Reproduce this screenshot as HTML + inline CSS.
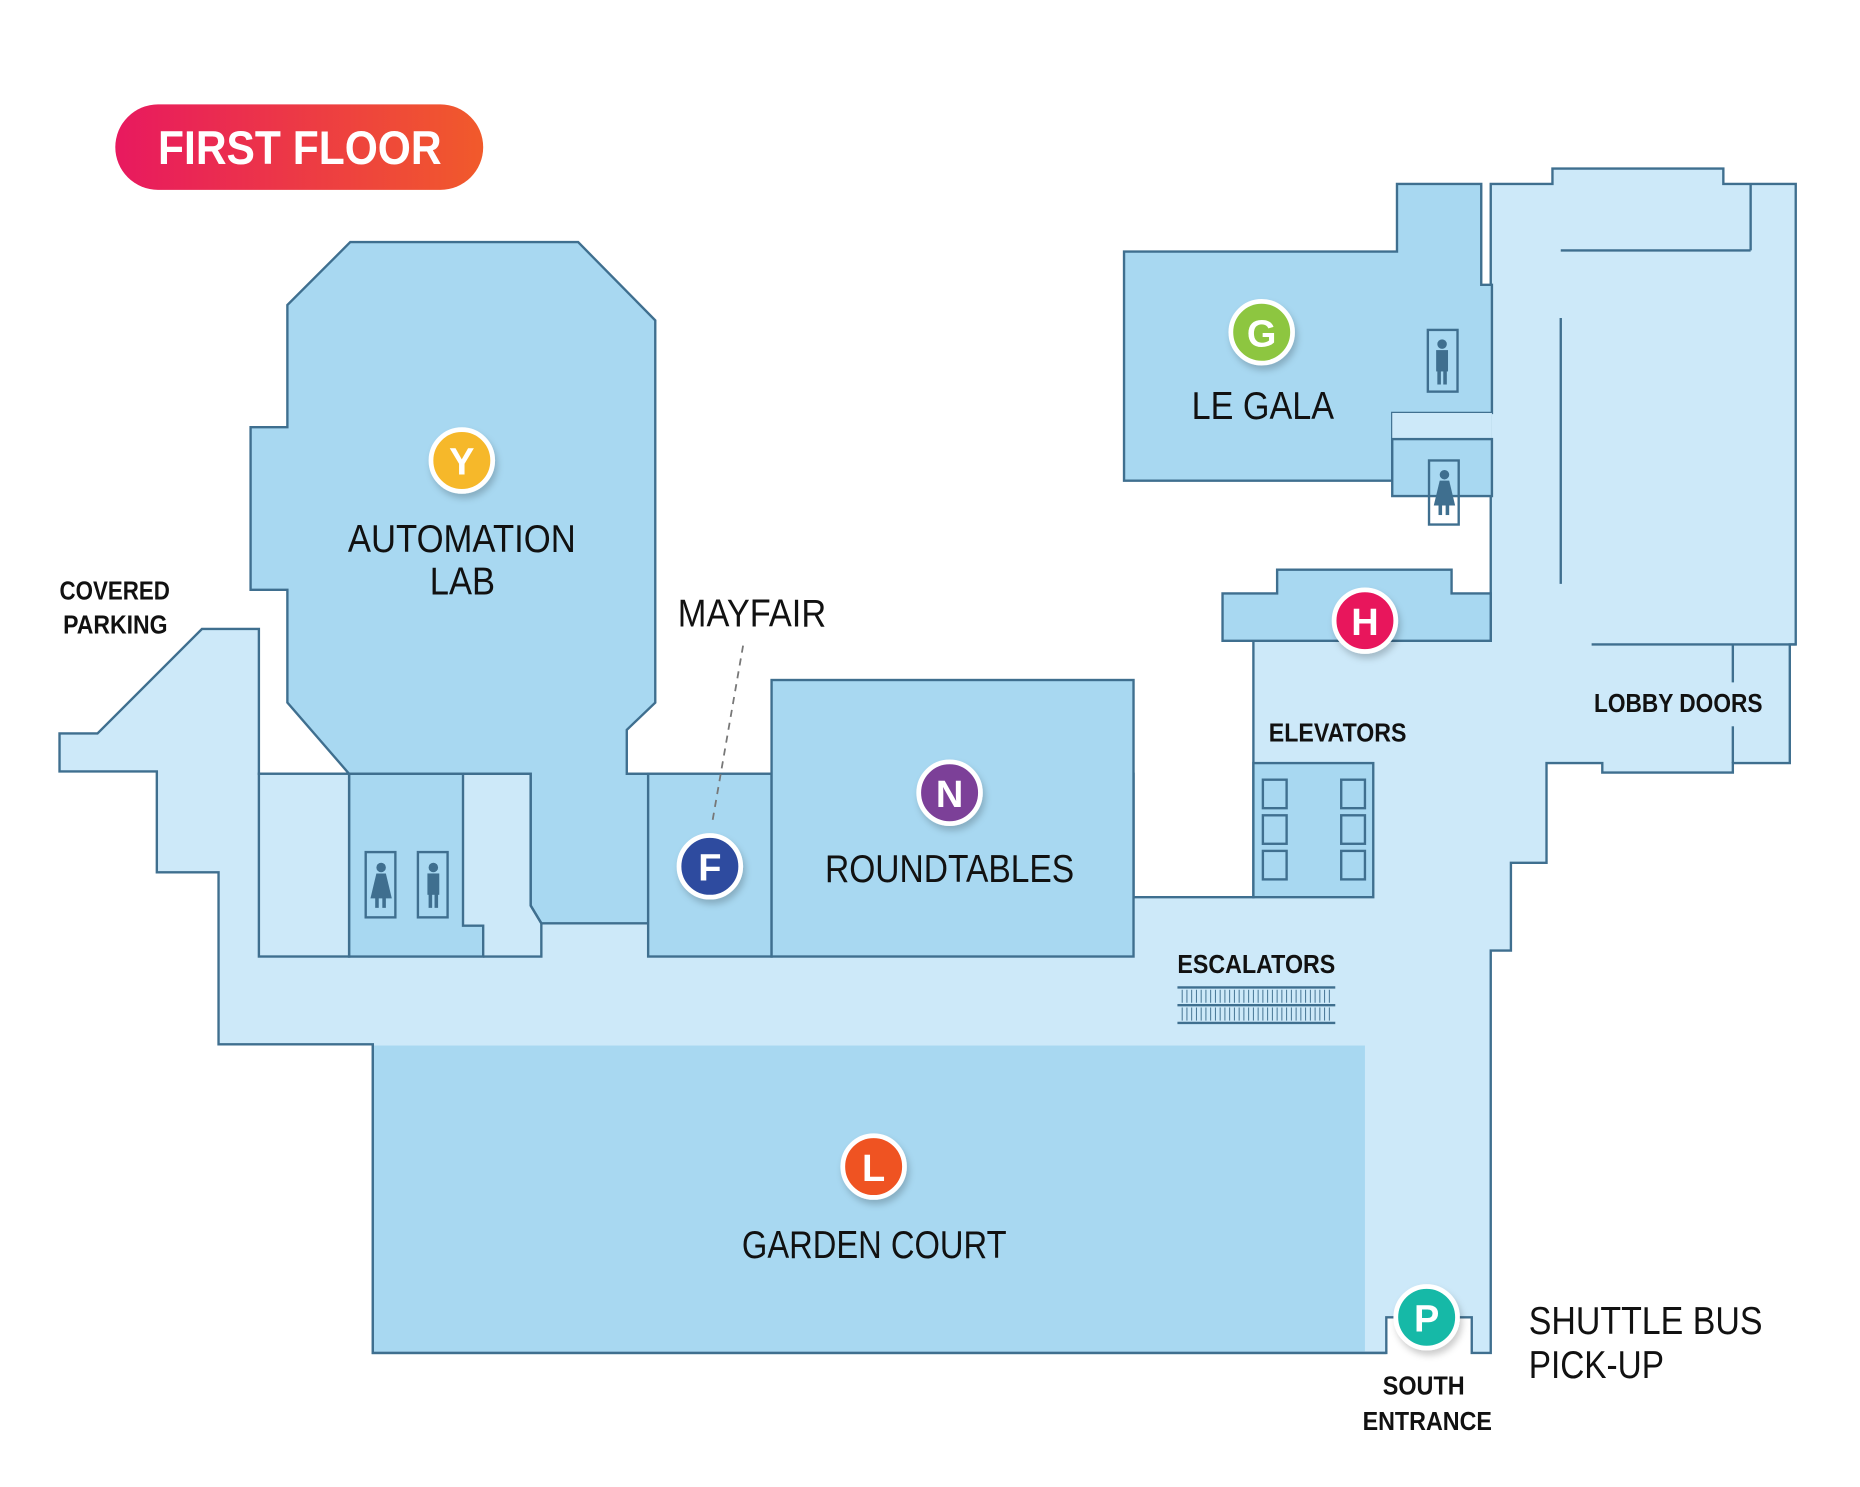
<!DOCTYPE html>
<html><head><meta charset="utf-8"><style>
html,body{margin:0;padding:0;background:#fff;width:1860px;height:1487px;overflow:hidden}
svg{display:block}
.t{font-family:"Liberation Sans",sans-serif;fill:#111}
.b{font-weight:bold}
</style></head><body>
<svg width="1860" height="1487" viewBox="0 0 1567 1253" xmlns="http://www.w3.org/2000/svg">
<defs>
<linearGradient id="pg" x1="0" x2="1"><stop offset="0" stop-color="#e8195f"/><stop offset="1" stop-color="#f15a2b"/></linearGradient>
<filter id="sh" x="-50%" y="-50%" width="200%" height="200%"><feDropShadow dx="2" dy="4" stdDeviation="3" flood-color="#000" flood-opacity="0.2"/></filter>
</defs>
<g stroke="#3f6f8f" stroke-width="2" stroke-linejoin="miter">
<polygon fill="#cde9f9" points="50,618 82,618 170,530 218,530 218,652 955,652 955,756 1056,756 1056,540 1256,540 1256,155 1308,155 1308,142 1452,142 1452,155 1513,155 1513,543 1508,543 1508,643 1460,643 1460,651 1350,651 1350,643 1303,643 1303,727 1273,727 1273,801 1256,801 1256,1140 1240,1140 1240,1110 1168,1110 1168,1140 314,1140 314,880 184,880 184,735 132,735 132,650 50,650"/>
<polygon fill="#a8d8f1" points="947,212 1177,212 1177,155 1248,155 1248,240 1257,240 1257,348 1173,348 1173,405 947,405"/>
<rect x="1173" y="348" width="84" height="22" fill="#cde9f9" stroke="none"/>
<rect x="1173" y="370" width="84" height="48" fill="#a8d8f1"/>
<polygon fill="#a8d8f1" points="1030,500 1076,500 1076,480 1223,480 1223,500 1256,500 1256,540 1030,540"/>
<polygon fill="#a8d8f1" points="295,204 487,204 552,270 552,592 528,615 528,652 546,652 546,778 456,778 447,763 447,652 294,652 242,592 242,497 211,497 211,360 242,360 242,257"/>
<polygon fill="#a8d8f1" points="294,652 390,652 390,780 407,780 407,806 294,806"/>
<rect x="218" y="652" width="76" height="154" fill="#cde9f9"/>
<polyline fill="none" points="390,652 447,652 447,763 456,778 456,806 407,806"/>
<rect x="546" y="652" width="104" height="154" fill="#a8d8f1"/>
<rect x="650" y="573" width="305" height="233" fill="#a8d8f1"/>
<rect x="1056" y="643" width="101" height="113" fill="#a8d8f1"/>
<g fill="none"><rect x="1064" y="657" width="20" height="24"/><rect x="1064" y="687" width="20" height="24"/><rect x="1064" y="717" width="20" height="24"/><rect x="1130" y="657" width="20" height="24"/><rect x="1130" y="687" width="20" height="24"/><rect x="1130" y="717" width="20" height="24"/></g>
<line x1="1315" y1="211" x2="1475" y2="211"/><line x1="1475" y1="155" x2="1475" y2="211"/>
<line x1="1315" y1="268" x2="1315" y2="492"/>
<line x1="1341" y1="543" x2="1513" y2="543"/>
<line x1="1460" y1="543" x2="1460" y2="575"/><line x1="1460" y1="612" x2="1460" y2="643"/>
<g fill="none"><rect x="308" y="718" width="25" height="55"/><rect x="352" y="718" width="25" height="55"/><rect x="1203" y="278" width="25" height="52"/><rect x="1204" y="388" width="25" height="54"/></g>
<g stroke-width="2"><line x1="992" y1="832" x2="1125" y2="832"/><line x1="992" y1="847" x2="1125" y2="847"/><line x1="992" y1="862" x2="1125" y2="862"/></g>
</g>
<g stroke="#3f6f8f" stroke-width="0.8">
<path d="M996 834V845M1000 834V845M1004 834V845M1008 834V845M1012 834V845M1016 834V845M1020 834V845M1024 834V845M1028 834V845M1032 834V845M1036 834V845M1040 834V845M1044 834V845M1048 834V845M1052 834V845M1056 834V845M1060 834V845M1064 834V845M1068 834V845M1072 834V845M1076 834V845M1080 834V845M1084 834V845M1088 834V845M1092 834V845M1096 834V845M1100 834V845M1104 834V845M1108 834V845M1112 834V845M1116 834V845M1120 834V845"/>
<path d="M996 849V860M1000 849V860M1004 849V860M1008 849V860M1012 849V860M1016 849V860M1020 849V860M1024 849V860M1028 849V860M1032 849V860M1036 849V860M1040 849V860M1044 849V860M1048 849V860M1052 849V860M1056 849V860M1060 849V860M1064 849V860M1068 849V860M1072 849V860M1076 849V860M1080 849V860M1084 849V860M1088 849V860M1092 849V860M1096 849V860M1100 849V860M1104 849V860M1108 849V860M1112 849V860M1116 849V860M1120 849V860"/>
</g>
<rect x="315" y="881" width="835" height="258" fill="#a8d8f1"/>
<polyline fill="none" stroke="#3f6f8f" stroke-width="2" points="314,880 314,1140 1168,1140"/>
<g fill="#3f6f8f">
<circle cx="321" cy="731" r="4"/><polygon points="317,736 325,736 330,757 312,757"/><rect x="316" y="756" width="3" height="9"/><rect x="322" y="756" width="3" height="9"/>
<circle cx="365" cy="731" r="4"/><rect x="360" y="736" width="10" height="18"/><rect x="361" y="753" width="3" height="12"/><rect x="366" y="753" width="3" height="12"/>
<circle cx="1215" cy="290" r="4"/><rect x="1210" y="295" width="10" height="18"/><rect x="1211" y="312" width="3" height="12"/><rect x="1216" y="312" width="3" height="12"/>
<circle cx="1217" cy="400" r="4"/><polygon points="1213,405 1221,405 1226,426 1208,426"/><rect x="1212" y="425" width="3" height="9"/><rect x="1218" y="425" width="3" height="9"/>
</g>
<line x1="626" y1="544" x2="600" y2="693" stroke="#777" stroke-width="1.5" stroke-dasharray="6,5"/>
<rect x="97" y="88" width="310" height="72" rx="36" fill="url(#pg)"/>
<text x="133" y="138" textLength="239" lengthAdjust="spacingAndGlyphs" class="t b" style="fill:#fff;font-size:40px">FIRST FLOOR</text>
<g filter="url(#sh)" stroke="#fff" stroke-width="4">
<circle cx="389" cy="388" r="26" fill="#f6b82c"/>
<circle cx="1063" cy="280" r="26" fill="#8dc63f"/>
<circle cx="1150" cy="523" r="26" fill="#e8195c"/>
<circle cx="800" cy="668" r="26" fill="#7b3f98"/>
<circle cx="598" cy="730" r="26" fill="#2e4b9f"/>
<circle cx="736" cy="983" r="26" fill="#ef5324"/>
<circle cx="1202" cy="1110" r="26" fill="#17b9a7"/>
</g>
<g class="t b" style="font-size:32px" text-anchor="middle">
<text x="389" y="400" style="fill:#fff">Y</text><text x="1063" y="292" style="fill:#fff">G</text><text x="1150" y="535" style="fill:#fff">H</text><text x="800" y="680" style="fill:#fff">N</text><text x="598" y="742" style="fill:#fff">F</text><text x="736" y="995" style="fill:#fff">L</text><text x="1202" y="1122" style="fill:#fff">P</text>
</g>
<g class="t" style="font-size:33px">
<text x="293" y="465" textLength="192" lengthAdjust="spacingAndGlyphs">AUTOMATION</text>
<text x="362" y="501" textLength="55" lengthAdjust="spacingAndGlyphs">LAB</text>
<text x="1004" y="353" textLength="120" lengthAdjust="spacingAndGlyphs">LE GALA</text>
<text x="695" y="743" textLength="210" lengthAdjust="spacingAndGlyphs">ROUNDTABLES</text>
<text x="625" y="1060" textLength="223" lengthAdjust="spacingAndGlyphs">GARDEN COURT</text>
<text x="571" y="528" textLength="125" lengthAdjust="spacingAndGlyphs">MAYFAIR</text>
<text x="1288" y="1124" textLength="197" lengthAdjust="spacingAndGlyphs">SHUTTLE BUS</text>
<text x="1288" y="1161" textLength="114" lengthAdjust="spacingAndGlyphs">PICK-UP</text>
</g>
<g class="t b" style="font-size:22px">
<text x="50" y="505" textLength="93" lengthAdjust="spacingAndGlyphs">COVERED</text>
<text x="53" y="534" textLength="88" lengthAdjust="spacingAndGlyphs">PARKING</text>
<text x="1069" y="625" textLength="116" lengthAdjust="spacingAndGlyphs">ELEVATORS</text>
<text x="1343" y="600" textLength="142" lengthAdjust="spacingAndGlyphs">LOBBY DOORS</text>
<text x="992" y="820" textLength="133" lengthAdjust="spacingAndGlyphs">ESCALATORS</text>
<text x="1165" y="1175" textLength="69" lengthAdjust="spacingAndGlyphs">SOUTH</text>
<text x="1148" y="1205" textLength="109" lengthAdjust="spacingAndGlyphs">ENTRANCE</text>
</g>
</svg>
</body></html>
